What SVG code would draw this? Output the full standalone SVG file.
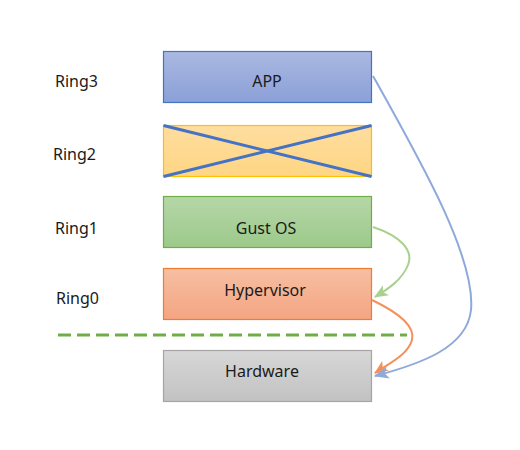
<svg xmlns="http://www.w3.org/2000/svg" width="520" height="450" viewBox="0 0 520 450">
<style>
text{font-family:"Noto Sans","Liberation Sans",sans-serif;font-size:16px;fill:#1a1a1a}
.box{stroke-width:1.2}
.conn{fill:none;stroke-width:2}
</style>
<defs>
<linearGradient id="gBlue" x1="0" y1="0" x2="0" y2="1"><stop offset="0" stop-color="#AAB9E1"/><stop offset="1" stop-color="#8BA0D8"/></linearGradient>
<linearGradient id="gYel" x1="0" y1="0" x2="0" y2="1"><stop offset="0" stop-color="#FEDD9F"/><stop offset="1" stop-color="#FED683"/></linearGradient>
<linearGradient id="gGreen" x1="0" y1="0" x2="0" y2="1"><stop offset="0" stop-color="#B6D7A8"/><stop offset="1" stop-color="#9CC98A"/></linearGradient>
<linearGradient id="gOr" x1="0" y1="0" x2="0" y2="1"><stop offset="0" stop-color="#F7BEA3"/><stop offset="1" stop-color="#F4A581"/></linearGradient>
<linearGradient id="gGray" x1="0" y1="0" x2="0" y2="1"><stop offset="0" stop-color="#D7D7D7"/><stop offset="1" stop-color="#C2C2C2"/></linearGradient>
<marker id="aG" viewBox="0 0 12 10" refX="11" refY="5" markerWidth="14" markerHeight="12" markerUnits="userSpaceOnUse" orient="auto"><path d="M0,0 L12,5 L0,10 L3,5 Z" fill="#A9D18E"/></marker>
<marker id="aO" viewBox="0 0 12 10" refX="11" refY="5" markerWidth="14" markerHeight="12" markerUnits="userSpaceOnUse" orient="auto"><path d="M0,0 L12,5 L0,10 L3,5 Z" fill="#F4915A"/></marker>
<marker id="aB" viewBox="0 0 12 10" refX="11" refY="5" markerWidth="15" markerHeight="13" markerUnits="userSpaceOnUse" orient="auto"><path d="M0,0 L12,5 L0,10 L3,5 Z" fill="#8EA9DB"/></marker>
</defs>
<g id="labels">
<text x="55" y="87">Ring3</text>
<text x="53" y="160">Ring2</text>
<text x="55" y="234">Ring1</text>
<text x="56" y="304">Ring0</text>
</g>
<g id="app"><rect class="box" x="163.5" y="51.5" width="208" height="51" fill="url(#gBlue)" stroke="#4472C4"/><text x="267" y="87" text-anchor="middle">APP</text></g>
<g id="ring2"><rect class="box" x="163.5" y="125.5" width="208" height="51" fill="url(#gYel)" stroke="#FFC000"/>
<line x1="163.5" y1="125.5" x2="371.5" y2="176.5" stroke="#4472C4" stroke-width="3"/>
<line x1="163.5" y1="176.5" x2="371.5" y2="125.5" stroke="#4472C4" stroke-width="3"/></g>
<g id="gustos"><rect class="box" x="163.5" y="196.5" width="208" height="51" fill="url(#gGreen)" stroke="#70AD47"/><text x="266" y="234" text-anchor="middle">Gust OS</text></g>
<g id="hypervisor"><rect class="box" x="163.5" y="268.5" width="208" height="51" fill="url(#gOr)" stroke="#ED7D31"/><text x="265" y="296" text-anchor="middle">Hypervisor</text></g>
<g id="hardware"><rect class="box" x="163.5" y="350.5" width="208" height="51" fill="url(#gGray)" stroke="#A5A5A5"/><text x="262" y="377" text-anchor="middle">Hardware</text></g>
<g id="divider"><line x1="58" y1="335" x2="407" y2="335" stroke="#70AD47" stroke-width="3" stroke-dasharray="13 6"/></g>
<g id="connectors">
<path class="conn" d="M373,227 C400,236 414,250 408,265 C402,280 388,289 375,297" stroke="#A9D18E" marker-end="url(#aG)"/>
<path class="conn" d="M372,300 C395,311 416,325 412,340 C408,355 388,364 375,373" stroke="#F4915A" marker-end="url(#aO)"/>
<path class="conn" d="M373,76 C420,160 476,258 471,310 C467,348 420,364 375,376" stroke="#8EA9DB" marker-end="url(#aB)"/>
</g>
</svg>
